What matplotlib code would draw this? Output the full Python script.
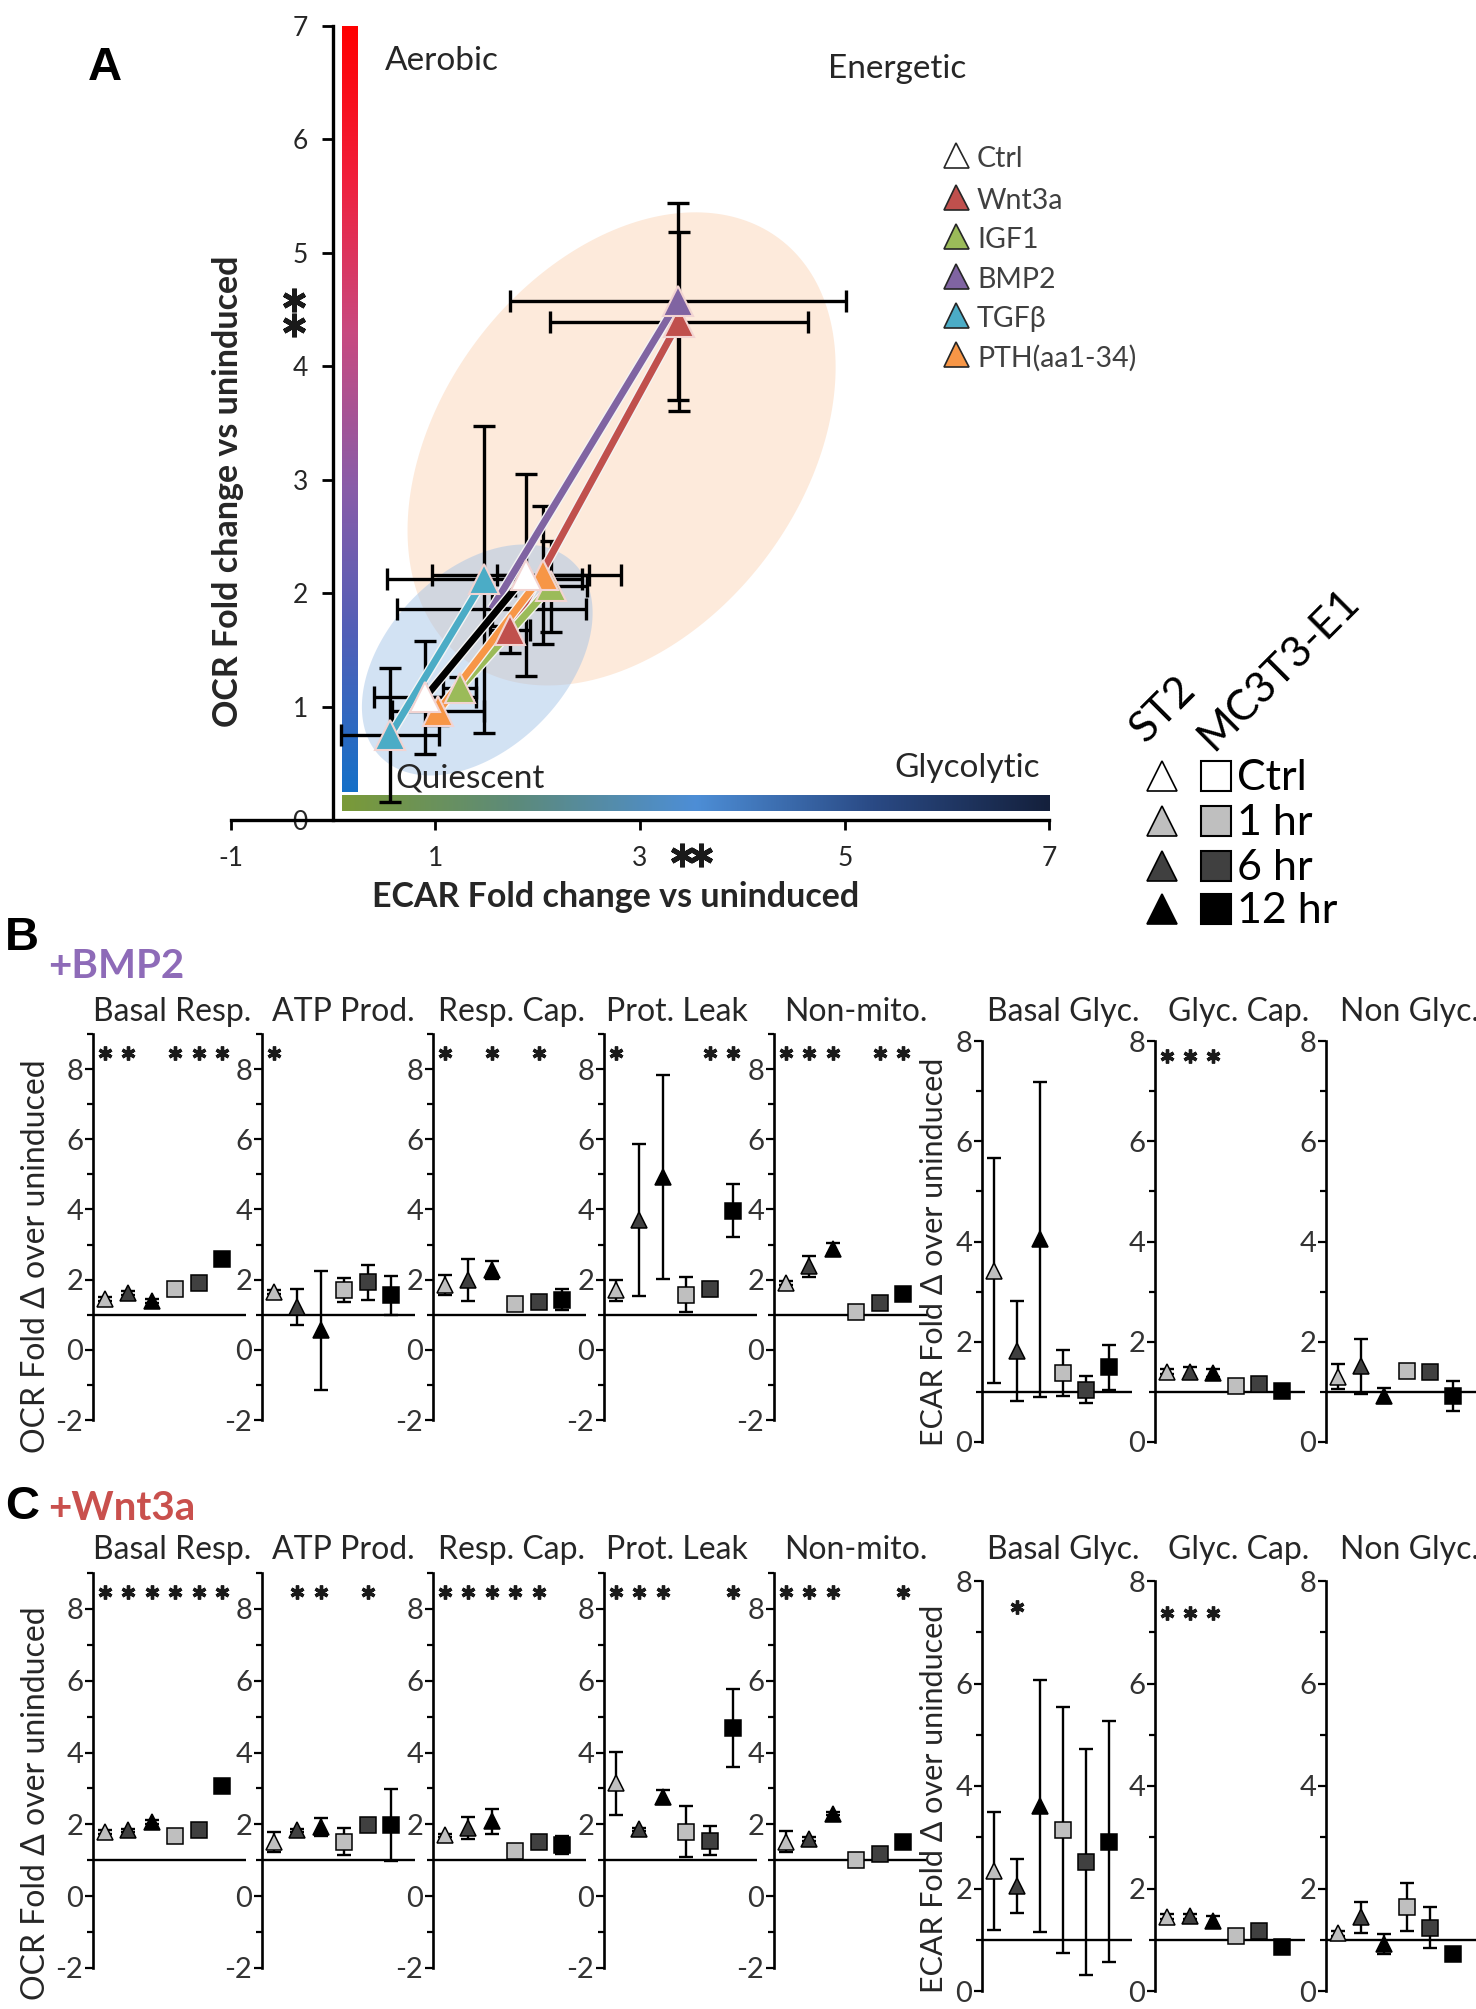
import numpy as np
import matplotlib
matplotlib.use("Agg")
import matplotlib.pyplot as plt
import matplotlib.patheffects as pe
from matplotlib.patches import Polygon
from matplotlib.colors import LinearSegmentedColormap

# ─────────────────────────────────────────────
# DATA — panel A (fold change vs uninduced)
# ─────────────────────────────────────────────
TREATMENTS = ["Ctrl", "Wnt3a", "IGF1", "BMP2", "TGFβ", "PTH(aa1-34)"]
ECAR_LOW = [0.90, 1.73, 1.24, 1.55, 0.56, 1.03]
OCR_LOW = [1.08, 1.67, 1.16, 1.86, 0.75, 0.96]
ECAR_LOW_ERR = [0.50, 0.20, 0.16, 0.92, 0.48, 0.45]
OCR_LOW_ERR = [0.50, 0.20, 0.10, 0.15, 0.59, 0.12]
ECAR_HIGH = [1.89, 3.38, 2.13, 3.37, 1.48, 2.05]
OCR_HIGH = [2.16, 4.39, 2.06, 4.57, 2.12, 2.16]
ECAR_HIGH_ERR = [0.92, 1.26, 0.35, 1.64, 0.95, 0.45]
OCR_HIGH_ERR = [0.89, 0.79, 0.40, 0.87, 1.35, 0.61]

# ─────────────────────────────────────────────
# DATA — panels B / C (6 markers: ST2 1,6,12 hr then MC3T3-E1 1,6,12 hr)
# ─────────────────────────────────────────────
OCR_METRICS = ["Basal Resp.", "ATP Prod.", "Resp. Cap.", "Prot. Leak", "Non-mito."]
ECAR_METRICS = ["Basal Glyc.", "Glyc. Cap.", "Non Glyc."]
TIMEPOINTS = ["Ctrl", "1 hr", "6 hr", "12 hr"]

BMP2_OCR = [[1.45, 1.62, 1.39, 1.72, 1.91, 2.60],
            [1.65, 1.22, 0.56, 1.70, 1.93, 1.55],
            [1.84, 1.98, 2.28, 1.30, 1.37, 1.43],
            [1.70, 3.69, 4.92, 1.57, 1.74, 3.97],
            [1.90, 2.38, 2.88, 1.08, 1.34, 1.60]]
BMP2_OCR_ERR = [[0.05, 0.05, 0.05, 0.08, 0.06, 0.08],
                [0.05, 0.50, 1.70, 0.35, 0.50, 0.55],
                [0.28, 0.60, 0.25, 0.10, 0.08, 0.30],
                [0.30, 2.17, 2.90, 0.50, 0.20, 0.75],
                [0.05, 0.30, 0.15, 0.08, 0.05, 0.05]]
BMP2_OCR_STARS = [[1, 2, 4, 5, 6], [1], [1, 3, 5], [1, 5, 6], [1, 2, 3, 5, 6]]

BMP2_ECAR = [[3.42, 1.82, 4.04, 1.37, 1.04, 1.49],
             [1.40, 1.40, 1.37, 1.11, 1.16, 1.02],
             [1.30, 1.51, 0.92, 1.42, 1.40, 0.92]]
BMP2_ECAR_ERR = [[2.25, 1.00, 3.15, 0.46, 0.27, 0.45],
                 [0.05, 0.10, 0.08, 0.05, 0.05, 0.05],
                 [0.25, 0.55, 0.15, 0.10, 0.10, 0.30]]
BMP2_ECAR_STARS = [[], [1, 2, 3], []]

WNT_OCR = [[1.79, 1.83, 2.07, 1.67, 1.83, 3.07],
           [1.50, 1.83, 1.93, 1.52, 1.97, 1.99],
           [1.69, 1.90, 2.08, 1.27, 1.52, 1.43],
           [3.14, 1.86, 2.77, 1.80, 1.55, 4.68],
           [1.52, 1.60, 2.30, 1.02, 1.18, 1.52]]
WNT_OCR_ERR = [[0.05, 0.05, 0.05, 0.05, 0.05, 0.05],
               [0.28, 0.05, 0.25, 0.37, 0.10, 1.00],
               [0.05, 0.30, 0.36, 0.05, 0.10, 0.25],
               [0.88, 0.05, 0.20, 0.70, 0.40, 1.08],
               [0.30, 0.05, 0.05, 0.05, 0.05, 0.05]]
WNT_OCR_STARS = [[1, 2, 3, 4, 5, 6], [2, 3, 5], [1, 2, 3, 4, 5], [1, 2, 3, 6], [1, 2, 3, 6]]

WNT_ECAR = [[2.35, 2.05, 3.61, 3.15, 2.52, 2.91],
            [1.45, 1.46, 1.37, 1.07, 1.17, 0.86],
            [1.13, 1.44, 0.92, 1.64, 1.23, 0.73]]
WNT_ECAR_ERR = [[1.15, 0.53, 2.45, 2.40, 2.20, 2.35],
                [0.05, 0.05, 0.10, 0.10, 0.05, 0.05],
                [0.05, 0.30, 0.20, 0.47, 0.40, 0.05]]
WNT_ECAR_STARS = [[2], [1, 2, 3], []]

# ─────────────────────────────────────────────
# STYLE
# ─────────────────────────────────────────────
W, H = 1476, 2009
plt.rcParams["font.family"] = ["Lato", "DejaVu Sans"]
plt.rcParams["axes.unicode_minus"] = False
TXT = "#262626"
TREAT_FILL = ["#ffffff", "#c0504d", "#9bbb59", "#8064a2", "#4bacc6", "#f79646"]
TREAT_LINE = ["#000000", "#c0504d", "#9bbb59", "#8064a2", "#4bacc6", "#f79646"]
SHADES = ["#bfbfbf", "#404040", "#000000"] * 2
SHAPES = ["^"] * 3 + ["s"] * 3
LEG_SHADES = ["#ffffff", "#bfbfbf", "#404040", "#000000"]

fig = plt.figure(figsize=(W / 100, H / 100), dpi=100)


def px_axes(left, top, right, bottom):
    return fig.add_axes([left / W, 1 - bottom / H, (right - left) / W, (bottom - top) / H])


def zone(cx, cy, a, b, angle, sx=102.5, sy=113.5):
    # ellipse defined in screen pixels (a, b, angle) around a data centre
    t = np.linspace(0, 2 * np.pi, 240)
    th = np.radians(angle)
    dx = a * np.cos(t) * np.cos(th) - b * np.sin(t) * np.sin(th)
    dy = a * np.cos(t) * np.sin(th) + b * np.sin(t) * np.cos(th)
    return np.column_stack([cx + dx / sx, cy + dy / sy])


# ─────────────────────────────────────────────
# PANEL A
# ─────────────────────────────────────────────
axA = px_axes(230.6, 25.6, 1049.4, 820)

axA.add_patch(Polygon(zone(2.82, 3.27, 263, 181, 53), closed=True, facecolor="#fdeadb",
                      lw=0, zorder=0.5))
axA.add_patch(Polygon(zone(1.41, 1.41, 137, 89, 45), closed=True, facecolor="#9dbfe6",
                      alpha=0.45, lw=0, zorder=0.6))

ocr_cmap = LinearSegmentedColormap.from_list(
    "ocr", ["#1570c8", "#5060b8", "#8a5ca8", "#c84a80", "#f0203c", "#ff0000"])
ecar_cmap = LinearSegmentedColormap.from_list(
    "ecar", ["#7a9a38", "#5c8a7c", "#4d8ed6", "#2a4a85", "#14203c"])
axA.imshow(np.linspace(0, 1, 256).reshape(-1, 1), cmap=ocr_cmap, origin="lower",
           extent=(0.09, 0.24, 0.25, 7.0), aspect="auto", zorder=1)
axA.imshow(np.linspace(0, 1, 256).reshape(1, -1), cmap=ecar_cmap, origin="lower",
           extent=(0.09, 7.0, 0.077, 0.217), aspect="auto", zorder=1)

axA.text(0.51, 6.69, "Aerobic", fontsize=24, color=TXT, va="center")
axA.text(4.84, 6.62, "Energetic", fontsize=24, color=TXT, va="center")
axA.text(0.61, 0.37, "Quiescent", fontsize=24, color=TXT, va="center")
axA.text(6.91, 0.46, "Glycolytic", fontsize=24, color=TXT, va="center", ha="right")

for i in range(len(TREATMENTS)):
    axA.errorbar([ECAR_LOW[i], ECAR_HIGH[i]], [OCR_LOW[i], OCR_HIGH[i]],
                 xerr=[ECAR_LOW_ERR[i], ECAR_HIGH_ERR[i]],
                 yerr=[OCR_LOW_ERR[i], OCR_HIGH_ERR[i]],
                 fmt="none", ecolor="black", elinewidth=2.4, capsize=8, capthick=2.4, zorder=2)

for i in [1, 3, 2, 5, 0, 4]:
    axA.plot([ECAR_LOW[i], ECAR_HIGH[i]], [OCR_LOW[i], OCR_HIGH[i]], color=TREAT_LINE[i], lw=5,
             solid_capstyle="butt", zorder=3,
             path_effects=[pe.withStroke(linewidth=7, foreground="#f4f4f4")])

# low BMP2 point sits under the shaded zone in the original figure
axA.plot(ECAR_LOW[3], OCR_LOW[3], ls="none", marker="^", ms=22, mfc=TREAT_FILL[3],
         mec="#f2d4d2", mew=1.5, zorder=0.4)
for i in [2, 5, 1, 3, 4, 0]:
    xs = [ECAR_HIGH[i]] if i == 3 else [ECAR_LOW[i], ECAR_HIGH[i]]
    ys = [OCR_HIGH[i]] if i == 3 else [OCR_LOW[i], OCR_HIGH[i]]
    axA.plot(xs, ys, ls="none", marker="^", ms=22, mfc=TREAT_FILL[i], mec="#f2d4d2",
             mew=1.5, zorder=4)

axA.set_xlim(-1, 7)
axA.set_ylim(0, 7)
axA.spines[["top", "right"]].set_visible(False)
axA.spines["left"].set_position(("data", 0))
axA.spines["left"].set_linewidth(2.4)
axA.spines["bottom"].set_linewidth(2.4)
axA.set_xticks([-1, 1, 3, 5, 7])
axA.set_yticks(range(8))
axA.tick_params(axis="x", length=7, width=2, pad=12, labelsize=19, labelcolor=TXT)
axA.tick_params(axis="y", length=8, width=2, pad=10, labelsize=19, labelcolor=TXT)

# significance marks
axA.plot([-0.38, -0.38], [4.36, 4.58], ls="none", marker=(6, 2, 0), ms=17, mew=3.5,
         color="#1a1a1a", clip_on=False, zorder=5)
axA.plot([3.41, 3.60], [-0.31, -0.31], ls="none", marker=(6, 2, 0), ms=17, mew=3.5,
         color="#1a1a1a", clip_on=False, zorder=5)


# ─────────────────────────────────────────────
# PANELS B / C
# ─────────────────────────────────────────────
OCR_LEFTS = [93, 262, 433, 604, 774]
ECAR_LEFTS = [982, 1155, 1326]


def small_panel(ax, means, errs, stars, star_y, ylim, major, minor):
    x = np.arange(len(means)) + 0.5
    ax.axhline(1, color="black", lw=1.7, zorder=1)
    for i in range(len(means)):
        ax.errorbar(x[i], means[i], yerr=errs[i], fmt="none", ecolor="black",
                    elinewidth=1.7, capsize=5, capthick=1.7, zorder=2)
        ax.plot(x[i], means[i], ls="none", marker=SHAPES[i], ms=12, mfc=SHADES[i],
                mec="black", mew=1.1, zorder=3)
    if stars:
        sx = [x[s - 1] for s in stars]
        ax.plot(sx, [star_y] * len(sx), ls="none", marker=(6, 2, 0), ms=10, mew=2.4,
                color="#1a1a1a", clip_on=False)
    ax.set_xlim(0, 6.5)
    ax.set_ylim(*ylim)
    ax.set_yticks(major)
    ax.set_yticks(minor, minor=True)
    ax.set_xticks([])
    ax.spines[["top", "right", "bottom"]].set_visible(False)
    ax.spines["left"].set_linewidth(1.9)
    ax.tick_params(axis="y", which="major", length=6, width=1.6, pad=1, labelsize=21,
                   labelcolor="#333333")
    ax.tick_params(axis="y", which="minor", length=4, width=1.6)
    ax.patch.set_alpha(0)


def block(ocr, ocr_err, ocr_stars, ecar, ecar_err, ecar_stars, ocr_box, ecar_box, ecar_star_y):
    for k, left in enumerate(OCR_LEFTS):
        ax = px_axes(left, ocr_box[0], left + 153, ocr_box[1])
        small_panel(ax, ocr[k], ocr_err[k], ocr_stars[k], 8.47, (-2, 9),
                    [-2, 0, 2, 4, 6, 8], [-1, 1, 3, 5, 7, 9])
    for k, left in enumerate(ECAR_LEFTS):
        ax = px_axes(left, ecar_box[0], left + 150, ecar_box[1])
        small_panel(ax, ecar[k], ecar_err[k], ecar_stars[k], ecar_star_y[k], (0, 8),
                    [0, 2, 4, 6, 8], [1, 3, 5, 7])


block(BMP2_OCR, BMP2_OCR_ERR, BMP2_OCR_STARS, BMP2_ECAR, BMP2_ECAR_ERR, BMP2_ECAR_STARS,
      (1034, 1420), (1041, 1442), [7.7, 7.7, 7.7])
block(WNT_OCR, WNT_OCR_ERR, WNT_OCR_STARS, WNT_ECAR, WNT_ECAR_ERR, WNT_ECAR_STARS,
      (1573, 1968), (1581, 1991), [7.5, 7.37, 7.37])

# ─────────────────────────────────────────────
# OVERLAY (labels, legends) in pixel coordinates
# ─────────────────────────────────────────────
ov = fig.add_axes([0, 0, 1, 1])
ov.set_xlim(0, W)
ov.set_ylim(H, 0)
ov.axis("off")
ov.patch.set_alpha(0)

ov.text(105, 68, "A", fontsize=34, fontweight="bold", family="Liberation Sans", ha="center",
        va="center")
ov.text(228, 491, "OCR Fold change vs uninduced", fontsize=24.5, fontweight="bold",
        rotation=90, ha="center", va="center", color=TXT)
ov.text(616, 897, "ECAR Fold change vs uninduced", fontsize=24.5, fontweight="bold",
        ha="center", va="center", color=TXT)

leg_rows = [155, 197, 236, 276, 315, 354]
for i, name in enumerate(TREATMENTS):
    ov.plot(956, leg_rows[i], ls="none", marker="^", ms=18, mfc=TREAT_FILL[i],
            mec="#262626", mew=1.2)
    ov.text(977, leg_rows[i] + 4, name, fontsize=20.5, color="#404040", va="center",
            family=["Lato", "DejaVu Sans"])

ov.text(1146, 744, "ST2", fontsize=31, rotation=45, rotation_mode="anchor", ha="left",
        va="baseline", color="black")
ov.text(1213, 752, "MC3T3-E1", fontsize=31, rotation=45, rotation_mode="anchor", ha="left",
        va="baseline", color="black")
leg2_rows = [776, 821, 866, 909]
for j, lab in enumerate(TIMEPOINTS):
    ov.plot(1162, leg2_rows[j], ls="none", marker="^", ms=21, mfc=LEG_SHADES[j],
            mec="black", mew=1.2)
    ov.plot(1216, leg2_rows[j], ls="none", marker="s", ms=22, mfc=LEG_SHADES[j],
            mec="black", mew=1.5)
    ov.text(1237, leg2_rows[j] + 2, lab, fontsize=31, color="black", va="center")

# panel letters / treatment headings
ov.text(22, 938, "B", fontsize=34, fontweight="bold", family="Liberation Sans", ha="center",
        va="center")
ov.text(48, 967, "+BMP2", fontsize=29, fontweight="bold", color="#8e6bb8", va="center")
ov.text(22, 1507, "C", fontsize=34, fontweight="bold", family="Liberation Sans", ha="center",
        va="center")
ov.text(48, 1508, "+Wnt3a", fontsize=29, fontweight="bold", color="#c9504d", va="center")

TITLE_X = [172, 343, 512, 677, 856, 1063, 1239, 1409]
for y in (1012, 1550):
    for tx, t in zip(TITLE_X, OCR_METRICS + ECAR_METRICS):
        ov.text(tx, y, t, fontsize=23, color=TXT, ha="center", va="center")

for yc in (1256, 1803):
    ov.text(36, yc, "OCR Fold Δ over uninduced", fontsize=23, rotation=90, color=TXT,
            ha="center", va="center", family=["Lato", "DejaVu Sans"])
    ov.text(934, yc - 4, "ECAR Fold Δ over uninduced", fontsize=22, rotation=90, color=TXT,
            ha="center", va="center", family=["Lato", "DejaVu Sans"])

fig.savefig("out.png", dpi=100, facecolor="white")
